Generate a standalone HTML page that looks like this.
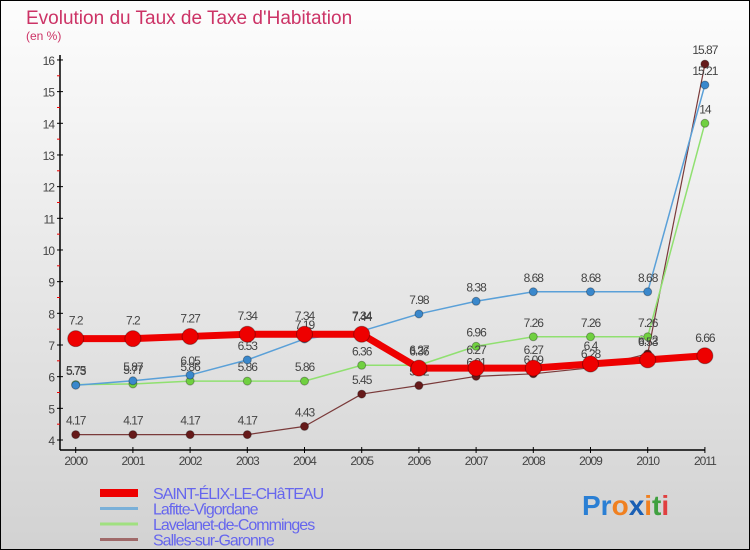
<!DOCTYPE html>
<html><head><meta charset="utf-8"><style>
body{margin:0;}
#wrap{width:750px;height:550px;position:relative;overflow:hidden;font-family:"Liberation Sans",sans-serif;}
</style></head><body>
<div id="wrap">
<svg id="svg" width="750" height="550" xmlns="http://www.w3.org/2000/svg">
<defs><linearGradient id="bg" x1="0" y1="0" x2="0" y2="1"><stop offset="0" stop-color="#fdfdfd"/><stop offset="1" stop-color="#d2d2d2"/></linearGradient></defs>
<rect x="0" y="0" width="750" height="550" fill="url(#bg)" stroke="#000" stroke-width="2"/>
<text x="26" y="24" font-size="19" fill="#cc3366">Evolution du Taux de Taxe d'Habitation</text>
<text x="26" y="40" font-size="12" fill="#cc3366">(en %)</text>
<g id="plot"></g>
<g id="legend"></g>
<text x="582" y="515" font-size="28" font-weight="bold"><tspan fill="#2a7fd4">Pr</tspan><tspan fill="#f08020">o</tspan><tspan fill="#1a5fb4">x</tspan><tspan fill="#f08020">i</tspan><tspan fill="#40a040">t</tspan><tspan fill="#e04040">i</tspan></text>
</svg>
</div>
<script>
const years=["2000","2001","2002","2003","2004","2005","2006","2007","2008","2009","2010","2011"];
const yTicks=[4,5,6,7,8,9,10,11,12,13,14,15,16];
const saint=[7.2,7.2,7.27,7.34,7.34,7.34,6.27,6.27,6.27,6.4,6.53,6.66];
const lafitte=[5.73,5.87,6.05,6.53,7.19,7.44,7.98,8.38,8.68,8.68,8.68,15.21];
const lavelanet=[5.75,5.77,5.86,5.86,5.86,6.36,6.36,6.96,7.26,7.26,7.26,14];
const salles=[4.17,4.17,4.17,4.17,4.43,5.45,5.72,6.01,6.09,6.28,6.72,15.87];
const seriesNames=["SAINT-ÉLIX-LE-CHâTEAU","Lafitte-Vigordane","Lavelanet-de-Comminges","Salles-sur-Garonne"];

const NS="http://www.w3.org/2000/svg";
const x0=75.7,dx=57.2;
function X(i){return x0+i*dx;}
function Y(v){return 440-(v-4)*31.67;}
const plot=document.getElementById('plot');
function mk(t,a,p){const e=document.createElementNS(NS,t);for(const k in a)e.setAttribute(k,a[k]);(p||plot).appendChild(e);return e;}
// axes
let ax=mk('line',{x1:60,y1:55,x2:60,y2:450,stroke:'#000','stroke-width':1.5});


let axx=mk('line',{x1:60,y1:450,x2:X(11),y2:450,stroke:'#000','stroke-width':1.5});


yTicks.forEach((v,i)=>{
  mk('line',{x1:57,y1:Y(v),x2:63,y2:Y(v),stroke:'#000'});
  if(i<yTicks.length-1){mk('line',{x1:57,y1:Y(v+0.5),x2:60,y2:Y(v+0.5),stroke:'#e00'});}
  const t=mk('text',{x:54,y:Y(v)+5,'font-size':12,fill:'#444','text-anchor':'end','letter-spacing':'-1'});
  t.textContent=v;
  
  
});
years.forEach((y,i)=>{
  mk('line',{x1:X(i),y1:447,x2:X(i),y2:453,stroke:'#000'});
  const t=mk('text',{x:X(i),y:465,'font-size':12,fill:'#444','text-anchor':'middle','letter-spacing':'-1'});
  t.textContent=y;
  
  
});
function series(data,color,w,r,dot,name){
  const g=mk('g',{});
  
  
  mk('polyline',{points:data.map((v,i)=>X(i)+','+Y(v)).join(' '),fill:'none',stroke:color,'stroke-width':w,'stroke-linejoin':'round'},g);
  data.forEach((v,i)=>{
    const c=mk('circle',{cx:X(i),cy:Y(v),r:r,fill:dot,stroke:'rgba(0,0,0,0.3)','stroke-width':1},g);
    
    
    const t=mk('text',{x:X(i),y:Y(v)-r-6,'font-size':12,fill:'#444','text-anchor':'middle','letter-spacing':'-1'},g);
    t.textContent=String(v);
    
    
  });
}
series(salles,'#7a3a3a',1.2,4,'#661a1a','salles-series');
series(lavelanet,'#90e070',1.5,4,'#70d040','lavelanet-series');
series(lafitte,'#5aa0d8',1.5,4,'#3a88cc','lafitte-series');
series(saint,'#ee0000',7,8,'#ee0000','saint-elix-series');
// legend
const lg=document.getElementById('legend');
const lcol=['#ee0000','#7ab0d8','#a0e080','#a06a6a'];
const lw=[8,3,3,3];
seriesNames.forEach((n,i)=>{
  const yy=493+i*15.5;
  const g=mk('g',{},lg);
  
  
  mk('line',{x1:100,y1:yy,x2:138,y2:yy,stroke:lcol[i],'stroke-width':lw[i]},g);
  const t=mk('text',{x:153,y:yy+6,'font-size':16,fill:'#6666ee','letter-spacing':'-1'},g);
  t.textContent=n;
});
</script>
</body></html>
